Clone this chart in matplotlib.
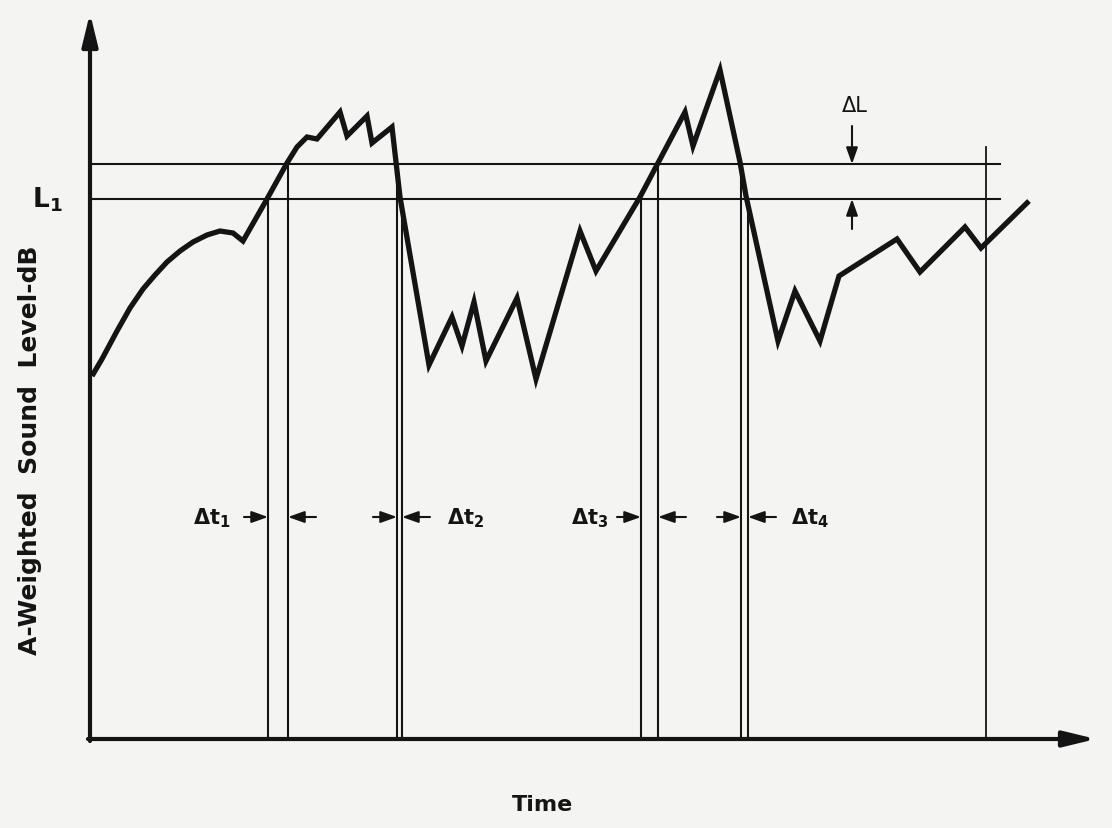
import matplotlib
matplotlib.use("Agg")
import matplotlib.pyplot as plt

plt.rcParams['font.family'] = ['DejaVu Sans']
plt.rcParams['mathtext.fontset'] = 'custom'
plt.rcParams['mathtext.rm'] = 'DejaVu Sans:bold'
plt.rcParams['mathtext.it'] = 'DejaVu Sans:bold'
plt.rcParams['mathtext.bf'] = 'DejaVu Sans:bold'
plt.rcParams['mathtext.default'] = 'rm'

# sound level trace (time, dB in arbitrary units)
t = [0.2, 1.2, 2.7, 4.0, 5.3, 6.5, 7.7, 9.0, 10.3, 11.7, 13.0, 14.3, 15.3,
     17.7, 19.7, 20.7, 21.7, 22.7, 25.0, 25.7, 27.7, 28.2, 30.2, 31.0,
     33.9, 36.2, 37.2, 38.4, 39.6, 42.7, 44.6, 49.0, 50.6, 55.0, 56.8,
     59.5, 60.3, 63.0, 65.0, 65.6, 68.8, 70.5, 73.0, 74.9, 80.7, 83.0,
     87.5, 89.1, 93.9]
level = [36.3, 38.0, 40.8, 43.1, 45.0, 46.4, 47.7, 48.8, 49.7, 50.4, 50.8, 50.6, 49.8,
         54.0, 57.6, 59.2, 60.2, 60.0, 62.7, 60.3, 62.3, 59.6, 61.2, 54.2,
         37.4, 42.2, 39.3, 43.7, 37.8, 44.1, 36.0, 50.8, 46.8, 54.2, 57.6,
         62.7, 59.3, 66.9, 57.7, 54.3, 39.8, 44.8, 39.8, 46.3, 50.0, 46.7,
         51.2, 49.1, 53.8]

L1 = 54.0
L2 = 57.5          # L1 + delta L
t_L1 = [17.8, 31.2, 55.1, 65.8]     # crossings of L1
t_L2 = [19.8, 30.7, 56.8, 65.1]     # crossings of L1 + dL
t_end = 89.6
t_max = 91.0
dt_labels = [r'$\Delta t_1$', r'$\Delta t_2$', r'$\Delta t_3$', r'$\Delta t_4$']

ink = '#141414'
fig = plt.figure(figsize=(11.12, 8.29), dpi=100, facecolor='#f4f4f2')
ax = fig.add_axes([0, 0, 1, 1])
ax.set_facecolor('#f4f4f2')
ax.set_xlim(-9, 102.2)
ax.set_ylim(-8.9, 74.0)
ax.axis('off')

# axes with arrows
head = dict(arrowstyle='-|>,head_length=0.7,head_width=0.17', lw=3, color=ink,
            mutation_scale=28, shrinkA=0, shrinkB=0)
ax.annotate('', xy=(0, 72.6), xytext=(0, -0.2), arrowprops=head)
ax.annotate('', xy=(100.6, 0), xytext=(-0.2, 0), arrowprops=head)

# threshold lines
ax.plot([0, t_max], [L1, L1], color=ink, lw=1.5)
ax.plot([0, t_max], [L2, L2], color=ink, lw=1.5)

# vertical crossing lines
for x in t_L1:
    ax.plot([x, x], [0, L1], color=ink, lw=1.5)
for x in t_L2:
    ax.plot([x, x], [0, L2], color=ink, lw=1.5)
ax.plot([t_end, t_end], [0, 59.2], color=ink, lw=1.3)

# trace
ax.plot(t, level, color=ink, lw=3.8, solid_joinstyle='miter', solid_capstyle='butt')

# delta L marker
small = dict(arrowstyle='-|>,head_length=0.7,head_width=0.25', lw=1.5, color=ink,
             mutation_scale=14, shrinkA=0, shrinkB=0)
xdl = 76.2
ax.annotate('', xy=(xdl, L2), xytext=(xdl, 61.3), arrowprops=small)
ax.annotate('', xy=(xdl, L1), xytext=(xdl, 51.0), arrowprops=small)
ax.text(xdl + 0.3, 62.4, 'ΔL', fontsize=15, ha='center', va='bottom', color=ink)

# delta t markers
ya = 22.2
for i in range(4):
    a, b = sorted([t_L1[i], t_L2[i]])
    ax.annotate('', xy=(a, ya), xytext=(a - 2.4, ya), arrowprops=small)
    ax.annotate('', xy=(b, ya), xytext=(b + 2.8, ya), arrowprops=small)
lab_x = [12.2, 37.6, 50.0, 72.0]
for x, s in zip(lab_x, dt_labels):
    ax.text(x, ya, s, fontsize=15, ha='center', va='center', color=ink)

ax.text(-4.3, L1, r'$L_1$', fontsize=19, ha='center', va='center', color=ink)
ax.text(45.2, -6.5, 'Time', fontsize=16, fontweight='bold', ha='center', va='center', color=ink)
ax.text(-6.0, 29.0, 'A-Weighted  Sound  Level-dB', fontsize=18, fontweight='bold',
        rotation=90, ha='center', va='center', color=ink)

fig.savefig('out.png', dpi=100, facecolor=fig.get_facecolor())
